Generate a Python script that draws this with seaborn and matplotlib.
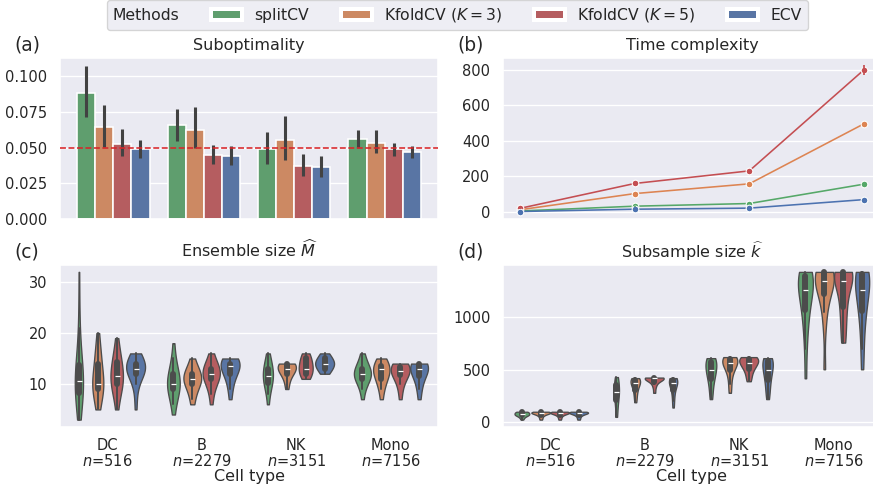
import numpy as np
import pandas as pd
import matplotlib
matplotlib.use("Agg")
import matplotlib.pyplot as plt
import seaborn as sns
from matplotlib.patches import Patch
from matplotlib.offsetbox import HPacker

# ---------------------------------------------------------------- data
methods = ["splitCV", "KfoldCV ($K=3$)", "KfoldCV ($K=5$)", "ECV"]
cell_types = ["DC", "B", "NK", "Mono"]
n_cells = [516, 2279, 3151, 7156]

# (a) suboptimality: mean and interval per method, ordered by cell type
subopt_mean = [
    [0.0884, 0.0656, 0.0491, 0.0558],   # splitCV
    [0.0644, 0.0621, 0.0554, 0.0533],   # KfoldCV K=3
    [0.0528, 0.0449, 0.0374, 0.0491],   # KfoldCV K=5
    [0.0489, 0.0442, 0.0367, 0.0472],   # ECV
]
subopt_lo = [
    [0.0714, 0.0547, 0.0386, 0.0495],
    [0.0505, 0.0498, 0.0412, 0.0460],
    [0.0442, 0.0386, 0.0300, 0.0444],
    [0.0428, 0.0377, 0.0293, 0.0428],
]
subopt_hi = [
    [0.1075, 0.0770, 0.0609, 0.0626],
    [0.0798, 0.0786, 0.0724, 0.0626],
    [0.0628, 0.0521, 0.0458, 0.0533],
    [0.0551, 0.0512, 0.0440, 0.0514],
]
target_level = 0.05

# (b) run time per method, ordered by cell type
time_mean = [
    [5, 32, 47, 156],
    [12, 103, 158, 496],
    [20, 160, 231, 800],
    [2, 15, 21, 69],
]
time_err = [
    [1, 2, 2, 4],
    [1, 3, 4, 6],
    [2, 4, 5, 26],
    [1, 1, 1, 3],
]

# (c) selected ensemble sizes, one list per method inside each cell type
ens_DC = [
    [3, 5, 6, 7, 7, 8, 8, 9, 9, 10, 10, 10, 10, 11, 11, 12, 12, 13, 13, 14, 15, 16, 18, 21, 25, 32],
    [5, 6, 7, 8, 9, 9, 9, 10, 10, 10, 10, 10, 11, 12, 13, 14, 14, 15, 16, 17, 18, 20],
    [5, 7, 8, 9, 10, 10, 10, 11, 11, 11, 12, 12, 13, 13, 14, 15, 15, 16, 17, 19],
    [5, 8, 10, 11, 12, 12, 12, 13, 13, 13, 13, 13, 14, 14, 14, 14, 15, 15, 16, 16],
]
ens_B = [
    [4, 6, 7, 8, 9, 9, 9, 10, 10, 10, 10, 11, 11, 12, 12, 13, 14, 15, 18],
    [6, 7, 8, 9, 10, 10, 10, 11, 11, 11, 11, 11, 12, 12, 12, 13, 13, 14, 15],
    [6, 8, 9, 10, 11, 11, 11, 12, 12, 12, 12, 12, 13, 13, 13, 14, 14, 15, 16],
    [7, 9, 10, 11, 12, 12, 13, 13, 13, 14, 14, 14, 14, 14, 15, 15, 15, 15],
]
ens_NK = [
    [6, 8, 9, 10, 10, 11, 11, 11, 11, 12, 12, 13, 13, 13, 14, 14, 15, 16],
    [9, 10, 11, 12, 12, 12, 13, 13, 13, 13, 13, 14, 14, 14, 14, 14, 14],
    [11, 11, 12, 12, 12, 13, 13, 13, 13, 14, 14, 15, 15, 15, 16, 16],
    [12, 12, 13, 13, 13, 14, 14, 14, 14, 14, 15, 15, 15, 16, 16],
]
ens_Mono = [
    [7, 9, 10, 11, 11, 11, 12, 12, 12, 12, 12, 13, 13, 13, 14, 15, 16],
    [7, 9, 10, 11, 11, 12, 12, 13, 13, 13, 13, 14, 14, 14, 15],
    [7, 9, 10, 11, 12, 12, 12, 12, 13, 13, 13, 13, 14, 14, 14, 14],
    [7, 9, 10, 11, 12, 12, 13, 13, 13, 13, 14, 14, 14, 14, 14],
]

# (d) selected subsample sizes
sub_DC = [
    [25, 40, 50, 58, 64, 68, 70, 72, 74, 76, 80, 86, 90, 94, 96, 98, 100, 100],
    [25, 40, 55, 65, 72, 78, 82, 85, 87, 88, 90, 92, 94, 96, 98, 100, 100, 100],
    [25, 40, 55, 65, 72, 78, 82, 85, 87, 88, 90, 92, 94, 96, 98, 100, 100, 100],
    [25, 40, 55, 65, 72, 78, 82, 85, 87, 88, 90, 92, 94, 96, 98, 100, 100, 100],
]
sub_B = [
    [51, 110, 160, 200, 230, 255, 275, 285, 300, 320, 345, 370, 395, 415, 430],
    [190, 230, 270, 300, 320, 345, 360, 370, 380, 390, 400, 405, 410, 415, 420],
    [280, 330, 360, 380, 395, 405, 412, 418, 420, 422, 424, 425, 425, 425, 425],
    [140, 200, 250, 290, 320, 345, 360, 370, 380, 390, 400, 408, 415, 420, 420],
]
sub_NK = [
    [220, 290, 350, 400, 430, 460, 480, 500, 520, 545, 565, 585, 600, 610, 610],
    [280, 360, 430, 480, 510, 530, 550, 560, 575, 590, 600, 610, 615, 620, 620],
    [390, 430, 470, 500, 520, 540, 550, 560, 575, 590, 600, 610, 615, 620, 620],
    [220, 280, 330, 380, 420, 455, 480, 500, 525, 550, 570, 590, 600, 610, 610],
]
sub_Mono = [
    [418, 700, 850, 950, 1040, 1090, 1150, 1200, 1240, 1262, 1290, 1320, 1350, 1380, 1400, 1420, 1431, 1431, 1431],
    [504, 900, 1050, 1150, 1220, 1250, 1290, 1320, 1348, 1370, 1400, 1420, 1431, 1431, 1431, 1431, 1431],
    [758, 830, 950, 1050, 1100, 1180, 1260, 1320, 1348, 1380, 1400, 1420, 1431, 1431, 1431, 1431, 1431],
    [504, 700, 850, 980, 1060, 1100, 1170, 1230, 1262, 1300, 1340, 1380, 1410, 1431, 1431, 1431, 1431],
]


def long_form(per_cell):
    rows = []
    for cell, groups in zip(cell_types, per_cell):
        for method, vals in zip(methods, groups):
            rows += [(cell, method, v) for v in vals]
    return pd.DataFrame(rows, columns=["cell", "method", "value"])


bar_df = pd.DataFrame(
    [(c, m, v) for m, vals in zip(methods, subopt_mean) for c, v in zip(cell_types, vals)],
    columns=["cell", "method", "value"],
)
time_df = pd.DataFrame(
    [(c, m, v) for m, vals in zip(methods, time_mean) for c, v in zip(cell_types, vals)],
    columns=["cell", "method", "time"],
)
ens_df = long_form([ens_DC, ens_B, ens_NK, ens_Mono])
sub_df = long_form([sub_DC, sub_B, sub_NK, sub_Mono])

# ---------------------------------------------------------------- style
sns.set_theme(style="darkgrid", context="notebook")
plt.rcParams["font.family"] = ["DejaVu Sans"]
deep = sns.color_palette("deep")
palette = [deep[2], deep[1], deep[3], deep[0]]
muted_fill = [sns.desaturate(c, 0.75) for c in palette]

W, H = 873, 486
fig = plt.figure(figsize=(W / 96, H / 96), dpi=96)


def px_axes(left, top, right, bottom):
    return fig.add_axes([left / W, 1 - bottom / H, (right - left) / W, (bottom - top) / H])


ax_a = px_axes(60, 58, 438, 219)
ax_b = px_axes(503, 58, 881, 219)
ax_c = px_axes(60, 264.5, 438, 427)
ax_d = px_axes(503, 264.5, 881, 427)

# (a) suboptimality bars with interval whiskers
sns.barplot(data=bar_df, x="cell", y="value", hue="method", order=cell_types,
            hue_order=methods, palette=palette, errorbar=None, edgecolor="white",
            linewidth=1.2, ax=ax_a, legend=False)
for cont, lo, hi in zip(ax_a.containers, subopt_lo, subopt_hi):
    xs = [p.get_x() + p.get_width() / 2 for p in cont.patches]
    ax_a.vlines(xs, lo, hi, color=".26", lw=2.3, zorder=3)
ax_a.axhline(target_level, color="#d8262a", ls="--", lw=1.2, zorder=4)
ax_a.set_yticks([0, 0.025, 0.05, 0.075, 0.1])
ax_a.set_title("Suboptimality", fontsize=12)

# (b) run time lines
sns.lineplot(data=time_df, x="cell", y="time", hue="method", hue_order=methods,
             palette=palette, marker="o", markersize=5, markeredgecolor="white",
             markeredgewidth=0.8, lw=1.2, sort=False, ax=ax_b, legend=False)
for vals, err, col in zip(time_mean, time_err, palette):
    ax_b.errorbar(cell_types, vals, yerr=err, fmt="none", ecolor=col, elinewidth=1.3)
ax_b.xaxis.grid(False)
ax_b.set_yticks([0, 200, 400, 600, 800])
ax_b.set_title("Time complexity", fontsize=12)

# (c), (d) violins, each cell type scaled on its own
for ax, df, bw in [(ax_c, ens_df, 1.35), (ax_d, sub_df, 1.0)]:
    for cell in cell_types:
        sns.violinplot(data=df[df["cell"] == cell], x="cell", y="value", hue="method",
                       order=cell_types, hue_order=methods, palette=palette, cut=0,
                       density_norm="area", common_norm=True, inner="box",
                       bw_adjust=bw, linewidth=1, ax=ax, legend=False)
ax_c.set_yticks([10, 20, 30])
ax_d.set_yticks([0, 500, 1000])
ax_c.set_title(r"Ensemble size $\widehat{M}$", fontsize=12)
ax_d.set_title(r"Subsample size $\widehat{k}$", fontsize=12)

tick_text = [f"{c}\n$n$={n}" for c, n in zip(cell_types, n_cells)]
for ax in (ax_c, ax_d):
    ax.set_xticks(range(len(cell_types)))
    ax.set_xticklabels(tick_text, linespacing=1.0)
    ax.tick_params(axis="x", pad=2)
    ax.set_xlabel("Cell type", fontsize=12, labelpad=0)
    ax.set_ylabel("")
    ax.set_xlim(-0.5, len(cell_types) - 0.5)
for ax in (ax_a, ax_b):
    ax.tick_params(axis="x", labelbottom=False)
    ax.set_xlabel("")
    ax.set_ylabel("")
for ax in (ax_a, ax_b, ax_c, ax_d):
    ax.tick_params(axis="y", labelsize=11)
    ax.tick_params(axis="x", labelsize=11)

# panel tags
for tag, x, y in [("(a)", 27, 45), ("(b)", 471, 45), ("(c)", 27, 252), ("(d)", 471, 252)]:
    fig.text(x / W, 1 - y / H, tag, ha="center", va="center", fontsize=14)

# shared legend with the title placed inline
handles = [Patch(facecolor=c, edgecolor="white", linewidth=3) for c in muted_fill]
leg = fig.legend(handles, methods, loc="upper center", bbox_to_anchor=(457.5 / W, 1.0),
                 ncol=4, title="Methods", title_fontsize=11.7, fontsize=11.7,
                 frameon=True, handlelength=2.0, columnspacing=2.0,
                 borderaxespad=0.0)
try:
    fs = leg._fontsize
    box = HPacker(pad=leg.borderpad * fs, sep=leg.columnspacing * fs, align="center",
                  children=[leg._legend_title_box, leg._legend_handle_box])
    box.set_figure(fig)
    box.set_offset(leg._findoffset)
    leg._legend_box = box
except Exception:
    pass

fig.savefig("out.png", dpi=96)
